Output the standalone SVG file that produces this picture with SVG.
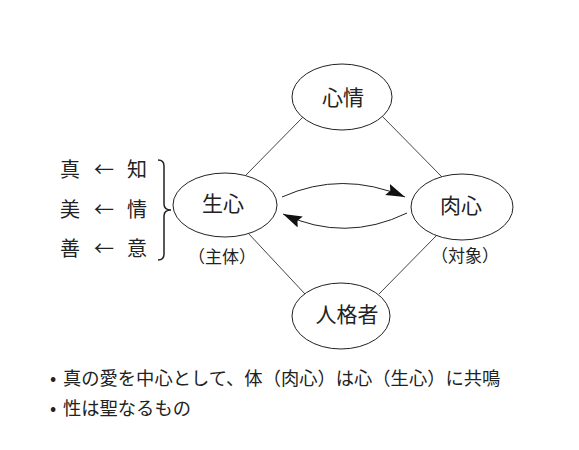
<svg xmlns="http://www.w3.org/2000/svg" width="579" height="450" viewBox="0 0 579 450">
<style>
.node ellipse{fill:#fff;stroke:#222;stroke-width:1}
text{font-family:"Noto Sans CJK JP","Noto Sans CJK SC",sans-serif;fill:#222}
.lbl{font-size:21px;text-anchor:middle}
.sub{font-size:17px;text-anchor:middle}
.side{font-size:20px;text-anchor:middle}
.note{font-size:18.3px}
.conn line{stroke:#444;stroke-width:1}
.conn path{fill:none;stroke:#222;stroke-width:1}
</style>
<defs>
<marker id="ah" markerUnits="userSpaceOnUse" markerWidth="20" markerHeight="14" refX="19" refY="6" orient="auto">
<path d="M0,0 L19,6 L0,12 L3,6 Z" fill="#111"/>
</marker>
</defs>
<rect width="579" height="450" fill="#fff"/>
<g id="connectors" class="conn">
<line x1="303" y1="117" x2="246" y2="175"/>
<line x1="382" y1="116" x2="442" y2="177"/>
<line x1="248" y1="233" x2="305" y2="294"/>
<line x1="437" y1="235" x2="379" y2="294"/>
<path d="M282,197 Q342,170 405,197" marker-end="url(#ah)"/>
<path d="M407,213 Q345,243 283,214" marker-end="url(#ah)"/>
</g>
<g id="node-shinjo" class="node">
<ellipse cx="342" cy="97" rx="50" ry="33"/>
<text class="lbl" x="343" y="105">心情</text>
</g>
<g id="node-seishin" class="node">
<ellipse cx="225" cy="205" rx="52" ry="32"/>
<text class="lbl" x="223" y="211">生心</text>
<text class="sub" x="222" y="263">（主体）</text>
</g>
<g id="node-nikushin" class="node">
<ellipse cx="462" cy="207" rx="51" ry="33"/>
<text class="lbl" x="461" y="213">肉心</text>
<text class="sub" x="465" y="262">（対象）</text>
</g>
<g id="node-jinkakusha" class="node">
<ellipse cx="341" cy="316" rx="49" ry="33"/>
<text class="lbl" x="347" y="322">人格者</text>
</g>
<g id="side">
<text class="side" x="70" y="177">真</text>
<text class="side" x="104" y="177">←</text>
<text class="side" x="137" y="177">知</text>
<text class="side" x="70" y="217">美</text>
<text class="side" x="104" y="217">←</text>
<text class="side" x="137" y="217">情</text>
<text class="side" x="70" y="256">善</text>
<text class="side" x="104" y="256">←</text>
<text class="side" x="137" y="256">意</text>
<path d="M158,160 Q164,160 164,166 L164,204 Q164,210 171,210 Q164,210 164,216 L164,254 Q164,260 158,260" fill="none" stroke="#222" stroke-width="1.5"/>
</g>
<g id="notes">
<text class="note" x="50" y="385">•</text>
<text class="note" x="63" y="385">真の愛を中心として、体（肉心）は心（生心）に共鳴</text>
<text class="note" x="50" y="415">•</text>
<text class="note" x="63" y="415">性は聖なるもの</text>
</g>
</svg>
